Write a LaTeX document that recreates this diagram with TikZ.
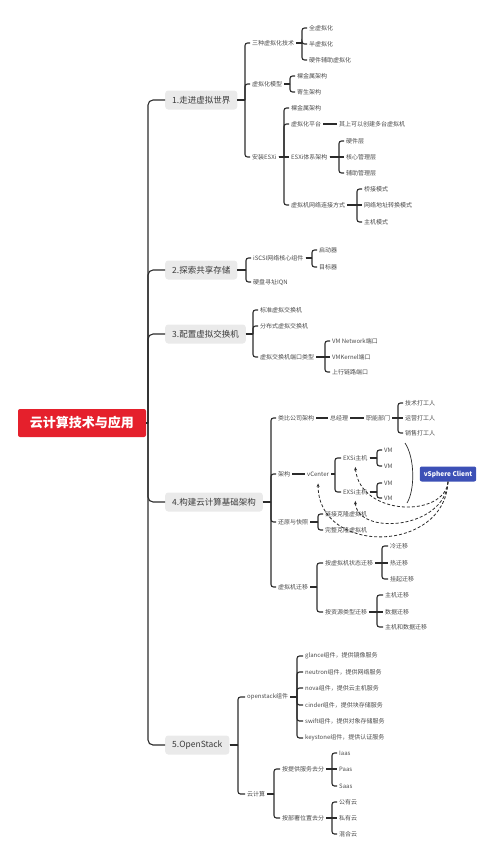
\documentclass[tikz,border=0pt]{standalone}
\usepackage{fontspec}
\setmainfont{Noto Sans CJK SC}
\usetikzlibrary{arrows.meta,calc}

\definecolor{linkc}{HTML}{2B2B2B}
\definecolor{leaftext}{HTML}{4A4A4A}
\definecolor{topicfill}{HTML}{EAEAEA}
\definecolor{topictext}{HTML}{3A3A3A}
\definecolor{rootred}{HTML}{E5202C}
\definecolor{vsblue}{HTML}{3C50B6}

% bracket from a parent to its children: [corner] parent, stub, children
\newcommand{\mmfork}[4][2.5pt]{%
  \foreach \kid in {#4}{%
    \path (\kid.west) ++(-#3,0) coordinate (kb);
    \path (#2.east); \pgfgetlastxy{\px}{\py}%
    \path (\kid.west); \pgfgetlastxy{\kx}{\ky}%
    \ifdim\dimexpr\py-\ky\relax<0.5pt
      \ifdim\dimexpr\ky-\py\relax<0.5pt
        \draw[link] (#2.east) -- (\kid.west);
      \else
        \draw[link] (#2.east) -- (kb |- #2.east);
        \draw[link, rounded corners=#1] (kb |- #2.east) |- (\kid.west);
      \fi
    \else
      \draw[link] (#2.east) -- (kb |- #2.east);
      \draw[link, rounded corners=#1] (kb |- #2.east) |- (\kid.west);
    \fi
  }%
}

\begin{document}
\begin{tikzpicture}[
    x=1pt, y=-1pt,
    link/.style={draw=linkc, line width=1.1pt},
    leaf/.style={anchor=west, inner sep=2pt, text=leaftext, font=\fontsize{6}{7}\selectfont},
    topic/.style={anchor=west, fill=topicfill, rounded corners=3pt, inner xsep=7pt, inner ysep=0pt,
        minimum height=19pt, text=topictext, font=\fontsize{8.5}{10}\selectfont},
    rootbox/.style={fill=rootred, rounded corners=2pt, inner xsep=12pt, minimum height=28pt,
        text=white, font=\fontsize{13}{15}\selectfont\bfseries},
    clientbox/.style={fill=vsblue, rounded corners=2pt, inner xsep=4pt, minimum height=15pt,
        text=white, font=\fontsize{6.5}{8}\selectfont\bfseries},
    dlink/.style={draw=linkc, line width=0.8pt, dash pattern=on 3pt off 2pt, -{Stealth[length=3.5pt,width=3pt]}}
]
\useasboundingbox (0,0) rectangle (500,863);

% Root
\node[rootbox] (root) at (82,423) {云计算技术与应用};

% Main topics
\node[topic] (virt) at (165,100) {1.走进虚拟世界};
\node[topic] (store) at (165,270) {2.探索共享存储};
\node[topic] (vswitch) at (165,334) {3.配置虚拟交换机};
\node[topic] (infra) at (165,502) {4.构建云计算基础架构};
\node[topic] (ostack) at (165,745) {5.OpenStack};

% 1
\node[leaf] (vtech) at (250,43) {三种虚拟化技术};
\node[leaf] (vmodel) at (250,84) {虚拟化模型};
\node[leaf] (esxi) at (250,157) {安装ESXi};
\node[leaf] (full) at (307,28) {全虚拟化};
\node[leaf] (para) at (307,44) {半虚拟化};
\node[leaf] (hwassist) at (307,60) {硬件辅助虚拟化};
\node[leaf] (bare) at (295,76) {裸金属架构};
\node[leaf] (hosted) at (295,92) {寄生架构};
\node[leaf] (esxbare) at (289,108) {裸金属架构};
\node[leaf] (vplat) at (289,124) {虚拟化平台};
\node[leaf] (esxarch) at (289,157) {ESXi体系架构};
\node[leaf] (vnet) at (289,205) {虚拟机网络连接方式};
\node[leaf] (vmany) at (337,124) {其上可以创建多台虚拟机};
\node[leaf] (hwl) at (344,141) {硬件层};
\node[leaf] (corel) at (344,157) {核心管理层};
\node[leaf] (auxl) at (344,173) {辅助管理层};
\node[leaf] (bridge) at (362,189) {桥接模式};
\node[leaf] (nat) at (362,205) {网络地址转换模式};
\node[leaf] (hostonly) at (362,222) {主机模式};

% 2
\node[leaf] (iscsi) at (251,258) {iSCSI网络核心组件};
\node[leaf] (iqn) at (251,282) {硬盘寻址IQN};
\node[leaf] (initr) at (317,250) {启动器};
\node[leaf] (target) at (317,267) {目标器};

% 3
\node[leaf] (std) at (258,310) {标准虚拟交换机};
\node[leaf] (dist) at (258,326) {分布式虚拟交换机};
\node[leaf] (ports) at (258,357) {虚拟交换机端口类型};
\node[leaf] (vmnet) at (330,341) {VM Network端口};
\node[leaf] (vmk) at (330,357) {VMKernel端口};
\node[leaf] (uplink) at (330,372) {上行链路端口};

% 4
\node[leaf] (corp) at (276,418) {类比公司架构};
\node[leaf] (arch) at (276,474) {架构};
\node[leaf] (snap) at (276,522) {还原与快照};
\node[leaf] (migr) at (276,587) {虚拟机迁移};
\node[leaf] (ceo) at (328,418) {总经理};
\node[leaf] (dept) at (364,418) {职能部门};
\node[leaf] (tech) at (403,403) {技术打工人};
\node[leaf] (ops) at (403,418) {运营打工人};
\node[leaf] (sales) at (403,433) {销售打工人};
\node[leaf] (vc) at (305,474) {vCenter};
\node[leaf] (esxa) at (341,458) {EXSi主机};
\node[leaf] (esxb) at (341,492) {EXSi主机};
\node[leaf] (vma1) at (382,450) {VM};
\node[leaf] (vma2) at (382,466) {VM};
\node[leaf] (vmb1) at (382,483) {VM};
\node[leaf] (vmb2) at (382,498) {VM};
\node[clientbox] (vsc) at (448,474) {vSphere Client};
\node[leaf] (linked) at (323,514) {链接克隆虚拟机};
\node[leaf] (fullc) at (323,530) {完整克隆虚拟机};
\node[leaf] (bystate) at (323,563) {按虚拟机状态迁移};
\node[leaf] (byres) at (323,612) {按资源类型迁移};
\node[leaf] (cold) at (388,546) {冷迁移};
\node[leaf] (hot) at (388,563) {热迁移};
\node[leaf] (susp) at (388,579) {挂起迁移};
\node[leaf] (hostm) at (383,595) {主机迁移};
\node[leaf] (datam) at (383,612) {数据迁移};
\node[leaf] (bothm) at (383,627) {主机和数据迁移};

% 5
\node[leaf] (comps) at (245,697) {openstack组件};
\node[leaf] (cloud) at (245,794) {云计算};
\node[leaf] (glance) at (303,656) {glance组件，提供镜像服务};
\node[leaf] (neutron) at (303,672) {neutron组件，提供网络服务};
\node[leaf] (nova) at (303,688) {nova组件，提供云主机服务};
\node[leaf] (cinder) at (303,705) {cinder组件，提供块存储服务};
\node[leaf] (swift) at (303,721) {swift组件，提供对象存储服务};
\node[leaf] (keystone) at (303,738) {keystone组件，提供认证服务};
\node[leaf] (bysvc) at (280,769) {按提供服务去分};
\node[leaf] (bydep) at (280,818) {按部署位置去分};
\node[leaf] (iaas) at (337,753) {Iaas};
\node[leaf] (paas) at (337,769) {Paas};
\node[leaf] (saas) at (337,786) {Saas};
\node[leaf] (pub) at (337,802) {公有云};
\node[leaf] (priv) at (337,818) {私有云};
\node[leaf] (hyb) at (337,834) {混合云};

% Connectors
\mmfork[5pt]{root}{17}{virt,store,vswitch,infra,ostack}
\mmfork{virt}{5}{vtech,vmodel,esxi}
\mmfork{vtech}{5}{full,para,hwassist}
\mmfork{vmodel}{5}{bare,hosted}
\mmfork{esxi}{5}{esxbare,vplat,esxarch,vnet}
\mmfork{vplat}{5}{vmany}
\mmfork{esxarch}{5}{hwl,corel,auxl}
\mmfork{vnet}{5}{bridge,nat,hostonly}
\mmfork{store}{5}{iscsi,iqn}
\mmfork{iscsi}{5}{initr,target}
\mmfork{vswitch}{5}{std,dist,ports}
\mmfork{ports}{5}{vmnet,vmk,uplink}
\mmfork{infra}{5}{corp,arch,snap,migr}
\mmfork{corp}{5}{ceo}
\mmfork{ceo}{5}{dept}
\mmfork{dept}{5}{tech,ops,sales}
\mmfork{arch}{5}{vc}
\mmfork{vc}{6}{esxa,esxb}
\mmfork{esxa}{5}{vma1,vma2}
\mmfork{esxb}{5}{vmb1,vmb2}
\mmfork{snap}{5}{linked,fullc}
\mmfork{migr}{6}{bystate,byres}
\mmfork{bystate}{6}{cold,hot,susp}
\mmfork{byres}{6}{hostm,datam,bothm}
\mmfork{ostack}{7}{comps,cloud}
\mmfork{comps}{6}{glance,neutron,nova,cinder,swift,keystone}
\mmfork{cloud}{6}{bysvc,bydep}
\mmfork{bysvc}{5}{iaas,paas,saas}
\mmfork{bydep}{5}{pub,priv,hyb}

% VM group bracket
\coordinate (vmtop) at (405,443);
\coordinate (vmbot) at (407,503);
\draw[draw=linkc, line width=0.7pt] (vmtop) .. controls (415,458) and (415,490) .. (vmbot);

% vSphere Client links
\draw[dlink] (vsc.south) .. controls +(-3,36) and +(5,50) .. ([yshift=-4pt]esxa.south);
\draw[dlink] (vsc.south) .. controls +(-3,48) and +(2,35) .. ([yshift=-4pt]esxb.south);
\draw[dlink] (vsc.south) .. controls +(-3,72) and +(0,72) .. ([yshift=-5pt]vc.south);

\end{tikzpicture}
\end{document}
